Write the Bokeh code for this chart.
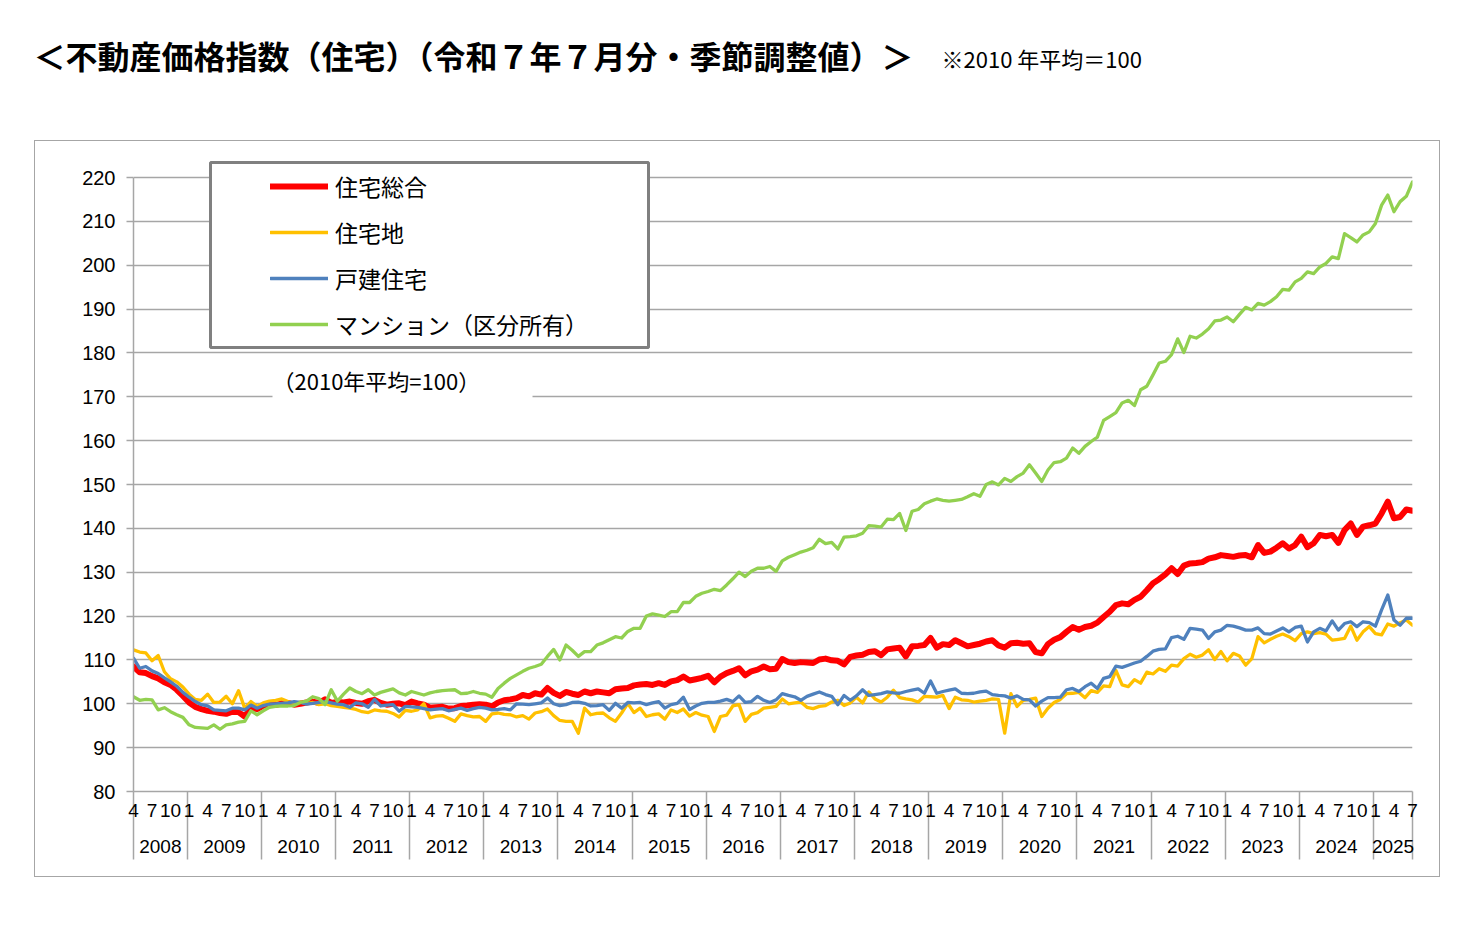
from bokeh.plotting import figure
from bokeh.layouts import column, row
from bokeh.models import (ColumnDataSource, Range1d, FixedTicker, LinearAxis, Spacer,
                          Legend, LegendItem, Label, BoxAnnotation)
from bokeh.embed import file_html
from bokeh.resources import INLINE

# 不動産価格指数（住宅）月次・季節調整値 2008年4月〜2025年7月
start_year, start_month = 2008, 4

# 住宅総合
sogo = [
    108.5, 107.2, 107.0, 106.3, 105.8, 104.9, 104.3, 103.2, 101.8,
    100.3, 99.3, 98.8, 98.4, 98.2, 97.9, 97.7, 98.2, 98.1, 97.1, 99.0, 98.8,
    99.6, 99.9, 99.7, 100.1, 100.2, 99.8, 100.0, 100.3, 100.5, 100.2, 101.0, 100.2,
    100.4, 100.3, 100.5, 100.2, 100.0, 100.6, 100.9, 100.2, 99.8, 100.0, 100.1, 99.7,
    100.5, 100.1, 99.8, 99.1, 99.2, 99.3, 98.9, 99.0, 99.5, 99.6, 99.8, 99.9,
    99.8, 99.4, 100.3, 100.8, 101.0, 101.3, 102.0, 101.7, 102.4, 102.1, 103.6, 102.5,
    101.8, 102.7, 102.3, 102.0, 102.8, 102.4, 102.8, 102.6, 102.4, 103.3, 103.5, 103.6,
    104.2, 104.4, 104.5, 104.3, 104.7, 104.3, 105.1, 105.4, 106.2, 105.3, 105.6, 105.9,
    106.4, 104.9, 106.2, 107.0, 107.5, 108.1, 106.5, 107.4, 107.8, 108.5, 107.9, 108.0,
    110.2, 109.5, 109.3, 109.5, 109.4, 109.3, 110.1, 110.3, 109.9, 109.8, 109.0, 110.7,
    111.0, 111.2, 111.8, 112.0, 111.1, 112.4, 112.6, 112.8, 110.8, 113.1, 113.2, 113.4,
    115.0, 112.8, 113.6, 113.4, 114.5, 113.8, 113.1, 113.4, 113.7, 114.2, 114.5, 113.3,
    112.8, 113.8, 113.9, 113.7, 113.8, 111.8, 111.5, 113.6, 114.6, 115.2, 116.4, 117.5,
    116.9, 117.5, 117.8, 118.5, 119.8, 121.0, 122.5, 122.9, 122.7, 123.7, 124.4, 125.9,
    127.5, 128.4, 129.5, 130.9, 129.6, 131.5, 132.0, 132.1, 132.3, 133.1, 133.4, 133.9,
    133.7, 133.5, 133.8, 133.9, 133.4, 136.2, 134.4, 134.7, 135.6, 136.6, 135.4, 136.2,
    138.1, 135.7, 136.6, 138.5, 138.2, 138.5, 136.7, 139.6, 141.1, 138.5, 140.4, 140.7,
    141.1, 143.4, 146.1, 142.3, 142.6, 144.3, 144.0,
]

# 住宅地
takuchi = [
    112.3, 111.8, 111.6, 109.8, 111.0, 107.3, 105.7, 105.0, 103.8,
    102.2, 101.0, 100.8, 102.2, 100.3, 100.4, 101.7, 100.0, 103.0, 99.0, 100.5, 99.4,
    100.2, 100.6, 100.8, 101.1, 100.5, 100.1, 100.4, 100.0, 100.3, 99.8, 100.0, 99.6,
    99.4, 99.2, 99.0, 98.7, 98.2, 98.0, 98.6, 98.4, 98.3, 97.8, 97.0, 98.5,
    98.3, 98.6, 100.0, 96.8, 97.2, 97.3, 96.7, 96.0, 97.7, 97.3, 97.0, 97.1,
    96.0, 97.7, 97.9, 97.6, 97.5, 97.0, 97.3, 96.5, 97.9, 98.2, 98.8, 97.3,
    96.2, 96.0, 96.0, 93.3, 99.0, 97.5, 97.8, 97.9, 96.8, 96.0, 97.9, 100.1,
    98.0, 99.0, 97.1, 97.5, 97.7, 96.5, 98.6, 98.0, 98.8, 97.2, 98.0, 97.4,
    97.1, 93.7, 97.1, 97.4, 99.5, 99.8, 96.0, 97.6, 98.0, 99.0, 99.2, 99.4,
    101.1, 100.0, 100.2, 100.4, 99.2, 98.9, 99.4, 99.6, 100.4, 100.8, 99.6, 100.2,
    101.5, 100.2, 102.7, 101.1, 100.4, 101.5, 103.1, 101.4, 101.1, 100.9, 100.4, 101.7,
    101.6, 101.5, 101.9, 98.9, 101.5, 100.9, 100.8, 100.4, 100.6, 100.8, 101.1, 101.0,
    93.3, 102.3, 99.4, 100.8, 101.0, 101.3, 97.1, 99.0, 100.3, 101.0, 102.3, 102.4,
    102.6, 101.4, 103.0, 102.6, 104.1, 103.9, 107.6, 104.3, 103.9, 105.5, 104.7, 107.2,
    106.8, 108.0, 107.4, 108.8, 108.6, 110.3, 111.3, 110.6, 111.1, 112.3, 110.1, 111.9,
    109.8, 111.5, 110.9, 108.8, 110.3, 115.3, 113.9, 114.7, 115.4, 115.9, 115.3, 114.4,
    116.0, 116.4, 116.0, 116.2, 115.9, 114.5, 114.7, 114.9, 117.7, 114.5, 116.4, 117.6,
    116.0, 115.7, 118.2, 117.7, 118.5, 119.1, 117.9,
]

# 戸建住宅
kodate = [
    110.4, 108.1, 108.5, 107.5, 106.9, 105.9, 105.0, 104.0, 102.6,
    101.5, 100.5, 99.8, 99.5, 98.6, 98.5, 98.4, 99.0, 99.0, 98.6, 99.7, 99.0,
    99.6, 99.9, 100.0, 100.1, 100.2, 100.5, 100.3, 99.9, 100.1, 100.3, 100.5, 100.2,
    99.9, 99.8, 99.2, 100.2, 100.0, 99.2, 101.0, 99.5, 99.7, 99.8, 98.3, 99.4,
    99.3, 99.2, 98.9, 98.6, 98.8, 98.9, 98.4, 98.7, 99.0, 98.5, 98.9, 99.2,
    99.0, 98.6, 98.7, 98.9, 98.6, 100.0, 99.9, 99.8, 100.0, 100.2, 101.3, 100.0,
    99.6, 99.8, 100.3, 100.4, 100.1, 99.5, 99.6, 99.8, 98.5, 100.1, 99.0, 100.3,
    100.2, 100.3, 99.8, 100.2, 100.5, 99.0, 99.8, 100.1, 101.5, 98.7, 99.5, 100.1,
    100.3, 100.3, 100.6, 101.0, 100.5, 101.8, 100.3, 100.5, 101.7, 100.8, 100.3, 100.9,
    102.3, 101.9, 101.6, 100.8, 101.7, 102.2, 102.7, 102.1, 101.7, 99.8, 101.9, 100.8,
    101.8, 103.2, 101.9, 102.1, 102.3, 102.7, 102.5, 102.4, 102.8, 103.1, 103.4, 102.4,
    105.2, 102.4, 102.8, 103.1, 103.4, 102.4, 102.3, 102.4, 102.7, 102.9, 102.1, 101.9,
    101.8, 101.3, 101.8, 101.0, 100.9, 99.5, 100.6, 101.4, 101.4, 101.5, 103.2, 103.5,
    102.8, 103.9, 104.7, 103.5, 105.8, 106.2, 108.6, 108.3, 108.8, 109.3, 109.7, 110.8,
    112.0, 112.4, 112.5, 115.1, 115.4, 114.7, 117.2, 117.0, 116.8, 114.9, 116.4, 116.8,
    117.9, 117.7, 117.3, 116.8, 116.8, 117.3, 116.0, 115.9, 116.6, 117.3, 116.4, 117.4,
    117.7, 114.1, 116.4, 117.2, 116.6, 118.9, 116.8, 118.3, 118.7, 117.6, 118.7, 118.5,
    117.7, 121.4, 124.8, 119.1, 117.9, 119.5, 119.5,
]

# マンション（区分所有）
mansion = [
    101.6, 100.8, 101.0, 100.9, 98.6, 99.1, 98.2, 97.5, 96.9,
    95.2, 94.6, 94.5, 94.4, 95.2, 94.2, 95.2, 95.4, 95.8, 96.0, 98.4, 97.5,
    98.4, 99.2, 99.4, 99.5, 99.5, 99.6, 100.3, 100.6, 101.6, 101.2, 99.8, 103.2,
    100.6, 102.2, 103.6, 102.8, 102.3, 103.2, 102.0, 102.6, 103.0, 103.4, 102.5, 102.0,
    102.8, 102.4, 102.0, 102.5, 102.8, 103.0, 103.1, 103.2, 102.3, 102.4, 102.8, 102.4,
    102.2, 101.5, 103.5, 104.7, 105.8, 106.6, 107.4, 108.1, 108.5, 109.0, 110.8, 112.4,
    110.0, 113.4, 112.2, 110.8, 111.9, 111.9, 113.4, 113.9, 114.6, 115.3, 115.0, 116.5,
    117.2, 117.2, 120.0, 120.5, 120.2, 119.9, 121.0, 121.0, 123.1, 123.1, 124.5, 125.2,
    125.6, 126.1, 125.8, 127.1, 128.5, 130.0, 129.0, 130.2, 130.9, 130.9, 131.3, 130.2,
    132.6, 133.4, 134.0, 134.6, 135.0, 135.6, 137.5, 136.5, 136.8, 135.3, 138.0, 138.1,
    138.3, 138.9, 140.6, 140.5, 140.3, 142.1, 142.0, 143.4, 139.5, 143.9, 144.3, 145.6,
    146.2, 146.7, 146.4, 146.2, 146.4, 146.6, 147.2, 147.9, 147.3, 150.0, 150.6, 149.9,
    151.4, 150.7, 151.8, 152.6, 154.5, 152.6, 150.7, 153.3, 155.0, 155.2, 156.0, 158.3,
    157.1, 158.7, 159.8, 160.8, 164.6, 165.5, 166.4, 168.6, 169.2, 168.0, 171.6, 172.4,
    175.0, 177.7, 178.1, 179.6, 183.2, 180.1, 183.8, 183.4, 184.3, 185.5, 187.3, 187.5,
    188.2, 187.1, 188.8, 190.4, 189.8, 191.3, 190.9, 191.7, 192.8, 194.5, 194.3, 196.2,
    197.0, 198.5, 198.1, 199.6, 200.4, 201.9, 201.5, 207.2, 206.3, 205.3, 206.9, 207.6,
    209.5, 213.7, 216.0, 212.2, 214.5, 215.7, 219.0,
]

series_cols = ["sogo", "takuchi", "kodate", "mansion"]
series_names = ["住宅総合", "住宅地", "戸建住宅", "マンション（区分所有）"]
series_colors = ["#FF0000", "#FFC000", "#4F81BD", "#92D050"]
series_widths = [6, 3.3, 3.3, 3.3]
y_ticks = list(range(80, 221, 10))
label_months = [1, 4, 7, 10]

title_text = "＜不動産価格指数（住宅）（令和７年７月分・季節調整値）＞"
note_text = "※2010 年平均＝100"
base_text = "（2010年平均=100）"

JP = "Noto Sans CJK JP"
NUM = "Liberation Sans"
NARROW = "Liberation Sans Narrow, Liberation Sans"
GRAY = "#a6a6a6"

idx = list(range(len(sogo)))
years = [start_year + (start_month - 1 + i) // 12 for i in idx]
months = [(start_month - 1 + i) % 12 + 1 for i in idx]

src = ColumnDataSource(data=dict(i=idx, sogo=sogo, takuchi=takuchi,
                                 kodate=kodate, mansion=mansion))

# ---- header (title row) ----
head = figure(width=1450, height=141, x_range=Range1d(0, 1450), y_range=Range1d(141, 0),
              x_axis_location=None, y_axis_location=None, min_border=0,
              output_backend="svg", toolbar_location=None, tools="")
head.outline_line_color = None
head.grid.visible = False
head.add_layout(Label(x=33, y=54, text=title_text, text_font=JP, text_font_size="32px",
                      text_font_style="bold", text_baseline="middle", text_color="black"))
head.add_layout(Label(x=941, y=57, text=note_text, text_font=JP, text_font_size="22px",
                      text_baseline="middle", text_color="black"))

# ---- main chart (frame top a bit above 220 so the legend box fits) ----
y_top = 220 + 27 * 140 / 614
p = figure(width=1404, height=735, x_range=Range1d(0, idx[-1]), y_range=Range1d(80, y_top),
           x_axis_location=None, output_backend="svg", toolbar_location=None, tools="",
           min_border_left=98, min_border_right=27, min_border_top=9, min_border_bottom=85)
p.outline_line_color = None
p.styles = {"outline": "1.5px solid #a6a6a6", "outline-offset": "0px"}
p.xgrid.visible = False
p.ygrid.grid_line_color = GRAY
p.ygrid.grid_line_width = 1.5

yax = p.yaxis[0]
yax.ticker = FixedTicker(ticks=y_ticks)
yax.bounds = (80, 220)
yax.axis_line_color = GRAY
yax.axis_line_width = 1.5
yax.major_tick_line_color = GRAY
yax.major_tick_line_width = 1.5
yax.major_tick_out = 7
yax.major_tick_in = 0
yax.minor_tick_line_color = None
yax.major_label_standoff = 11
yax.major_label_text_font = NUM
yax.major_label_text_font_size = "20px"
yax.major_label_text_color = "black"

# month labels (1,4,7,10); year separators drawn as long minor ticks
month_ticks = [i for i in idx if months[i] in label_months]
year_list = sorted(set(years))
bounds = []
centers = []
for y in year_list:
    first = years.index(y)
    last = len(years) - 1 - years[::-1].index(y)
    left = 0 if first == 0 else first - 0.3
    right = idx[-1] if last == idx[-1] else last + 0.7
    bounds.append(left)
    centers.append((left + right) / 2)
bounds.append(idx[-1])

xa = LinearAxis(ticker=FixedTicker(ticks=month_ticks, minor_ticks=bounds),
                major_label_overrides={i: str(months[i]) for i in month_ticks})
xa.axis_line_color = GRAY
xa.axis_line_width = 1.5
xa.major_tick_line_color = None
xa.major_tick_out = 0
xa.major_tick_in = 0
xa.minor_tick_line_color = GRAY
xa.minor_tick_line_width = 1.5
xa.minor_tick_out = 68
xa.minor_tick_in = 0
xa.major_label_standoff = -56
xa.major_label_text_font = NARROW
xa.major_label_text_font_size = "19px"
xa.major_label_text_color = "black"
p.add_layout(xa, "below")

xb = LinearAxis(ticker=FixedTicker(ticks=centers),
                major_label_overrides={c: str(y) for c, y in zip(centers, year_list)})
xb.axis_line_color = None
xb.major_tick_line_color = None
xb.minor_tick_line_color = None
xb.major_tick_out = 0
xb.major_tick_in = 0
xb.major_label_standoff = 20
xb.major_label_text_font = NARROW
xb.major_label_text_font_size = "19px"
xb.major_label_text_color = "black"
p.add_layout(xb, "below")

renderers = []
for col, color, w in zip(series_cols, series_colors, series_widths):
    r = p.line("i", col, source=src, line_color=color, line_width=w,
               line_join="round", line_cap="round")
    renderers.append(r)

# base note with white background
p.add_layout(BoxAnnotation(left=139, right=399, top=433, bottom=391.5,
                           left_units="screen", right_units="screen",
                           top_units="screen", bottom_units="screen",
                           fill_color="white", fill_alpha=1, line_alpha=0))
p.add_layout(Label(x=139, y=412, x_units="screen", y_units="screen", text=base_text,
                   text_font=JP, text_font_size="22px", text_baseline="middle",
                   text_color="black"))

# legend box
p.add_layout(BoxAnnotation(left=77, right=515, top=629, bottom=444,
                           left_units="screen", right_units="screen",
                           top_units="screen", bottom_units="screen",
                           fill_color="white", fill_alpha=1, line_color="#808080",
                           line_alpha=1, line_width=3))
legend = Legend(items=[LegendItem(label=n, renderers=[r]) for n, r in zip(series_names, renderers)],
                location=(137, 450), orientation="vertical", padding=0, margin=0, spacing=12,
                glyph_width=58, glyph_height=34, label_height=34, label_standoff=7,
                label_text_font=JP, label_text_font_size="23px", label_text_color="black",
                border_line_color=None, background_fill_alpha=0)
p.add_layout(legend)

layout = column(head, row(Spacer(width=35, height=745), p, Spacer(width=10, height=745)))

open("out.html", "w").write(file_html(layout, INLINE))
